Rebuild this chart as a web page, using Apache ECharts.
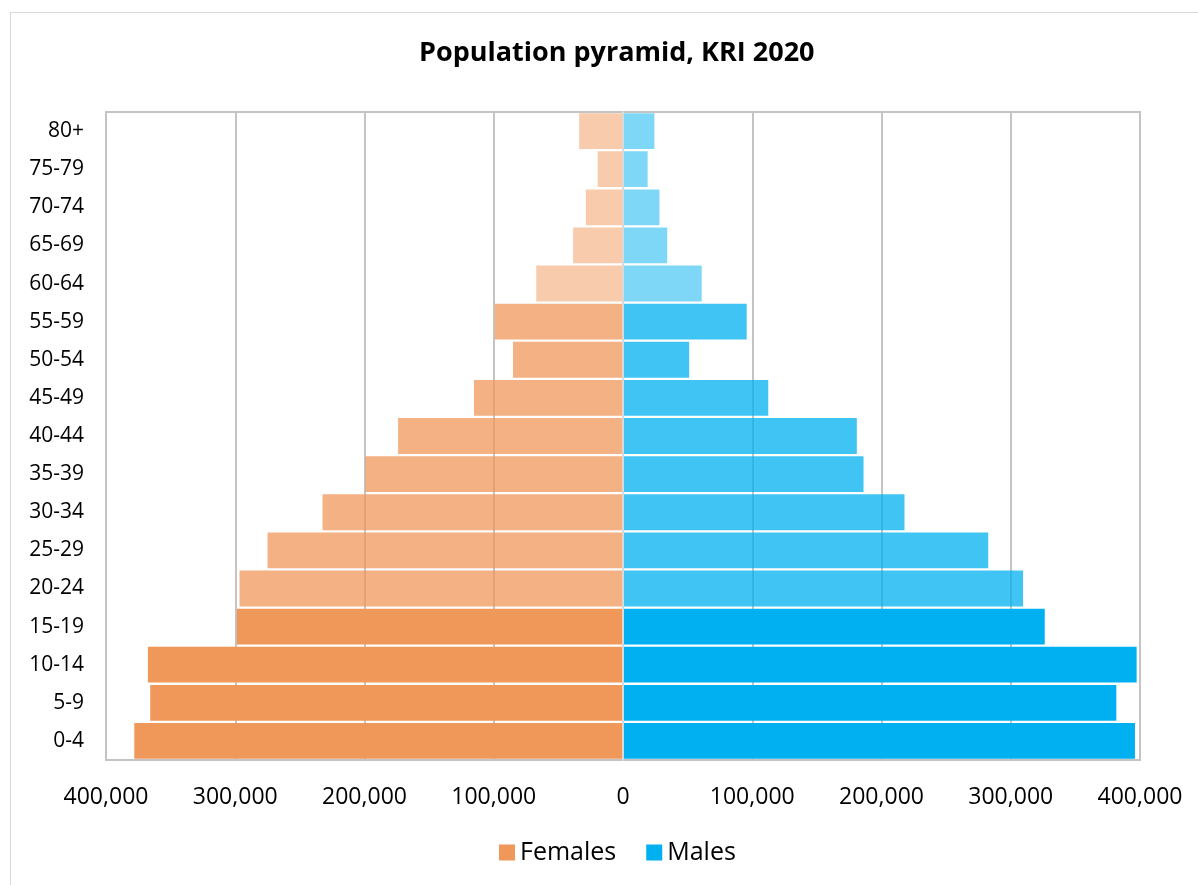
<!DOCTYPE html>
<html>
<head>
<meta charset="utf-8">
<script src="https://cdn.jsdelivr.net/npm/echarts@6/dist/echarts.min.js"></script>
<style>
  html, body { margin: 0; padding: 0; background: #fff; }
  #frame { position: absolute; left: 10px; top: 12px; width: 1400px; height: 1000px; border: 1.5px solid #d9d9d9; box-sizing: border-box; }
  #chart { position: absolute; left: 0; top: 0; width: 1198px; height: 885px; }
</style>
</head>
<body>
<div id="frame"></div>
<div id="chart"></div>
<script>
// Age groups, bottom to top
const ageGroups = ['0-4','5-9','10-14','15-19','20-24','25-29','30-34','35-39','40-44','45-49','50-54','55-59','60-64','65-69','70-74','75-79','80+'];
const females = [378100, 365800, 367600, 298800, 296700, 275000, 232500, 199300, 174000, 115300, 85100, 99200, 67100, 38600, 28700, 19600, 33900];
const males   = [396100, 381700, 397400, 326300, 309500, 282600, 217800, 186100, 180900, 112400, 51200, 95700, 60900, 34200, 28200, 19100, 24300];
const xTicks = [-400000, -300000, -200000, -100000, 0, 100000, 200000, 300000, 400000];

const FONT = '"Open Sans", "Noto Sans", sans-serif';
const femaleColor = '#F0975A';
const maleColor = '#00B0F0';

function opacityFor(i) {
  if (i <= 3) return 1;      // 0-19
  if (i <= 11) return 0.75;  // 20-59
  return 0.5;                // 60+
}

const chart = echarts.init(document.getElementById('chart'), null, { renderer: 'canvas' });

chart.setOption({
  animation: false,
  title: {
    text: 'Population pyramid, KRI 2020',
    left: 414,
    top: 35,
    textStyle: { fontFamily: FONT, fontWeight: 'bold', fontSize: 27, color: '#000' }
  },
  legend: {
    data: ['Females', 'Males'],
    bottom: 15,
    left: 494,
    icon: 'rect',
    itemWidth: 16,
    itemHeight: 16,
    itemGap: 30,
    textStyle: { fontFamily: FONT, fontSize: 25, color: '#000' }
  },
  grid: {
    left: 106, right: 58, top: 112, bottom: 125,
    show: true, borderColor: '#c4c4c4', borderWidth: 2,
    containLabel: false
  },
  xAxis: {
    type: 'value',
    min: xTicks[0],
    max: xTicks[xTicks.length - 1],
    interval: 100000,
    axisLine: { show: false },
    axisTick: { show: false },
    splitLine: { show: true, lineStyle: { color: '#c4c4c4', width: 2 } },
    axisLabel: {
      margin: 26,
      fontFamily: FONT,
      fontSize: 23,
      color: '#000',
      formatter: v => Math.abs(v).toLocaleString('en-US')
    }
  },
  yAxis: {
    type: 'category',
    data: ageGroups,
    axisLine: { show: true, onZero: true, lineStyle: { color: '#d9d9d9', width: 2 } },
    axisTick: { show: false },
    axisLabel: { margin: 22, fontFamily: FONT, fontSize: 21, color: '#000' },
    z: 5
  },
  series: [
    {
      name: 'Females',
      type: 'bar',
      stack: 'pop',
      barCategoryGap: '6%',
      itemStyle: { color: femaleColor },
      data: females.map((v, i) => ({ value: -v, itemStyle: { opacity: opacityFor(i) } }))
    },
    {
      name: 'Males',
      type: 'bar',
      stack: 'pop',
      barCategoryGap: '6%',
      itemStyle: { color: maleColor },
      data: males.map((v, i) => ({ value: v, itemStyle: { opacity: opacityFor(i) } }))
    }
  ]
});
</script>
</body>
</html>
